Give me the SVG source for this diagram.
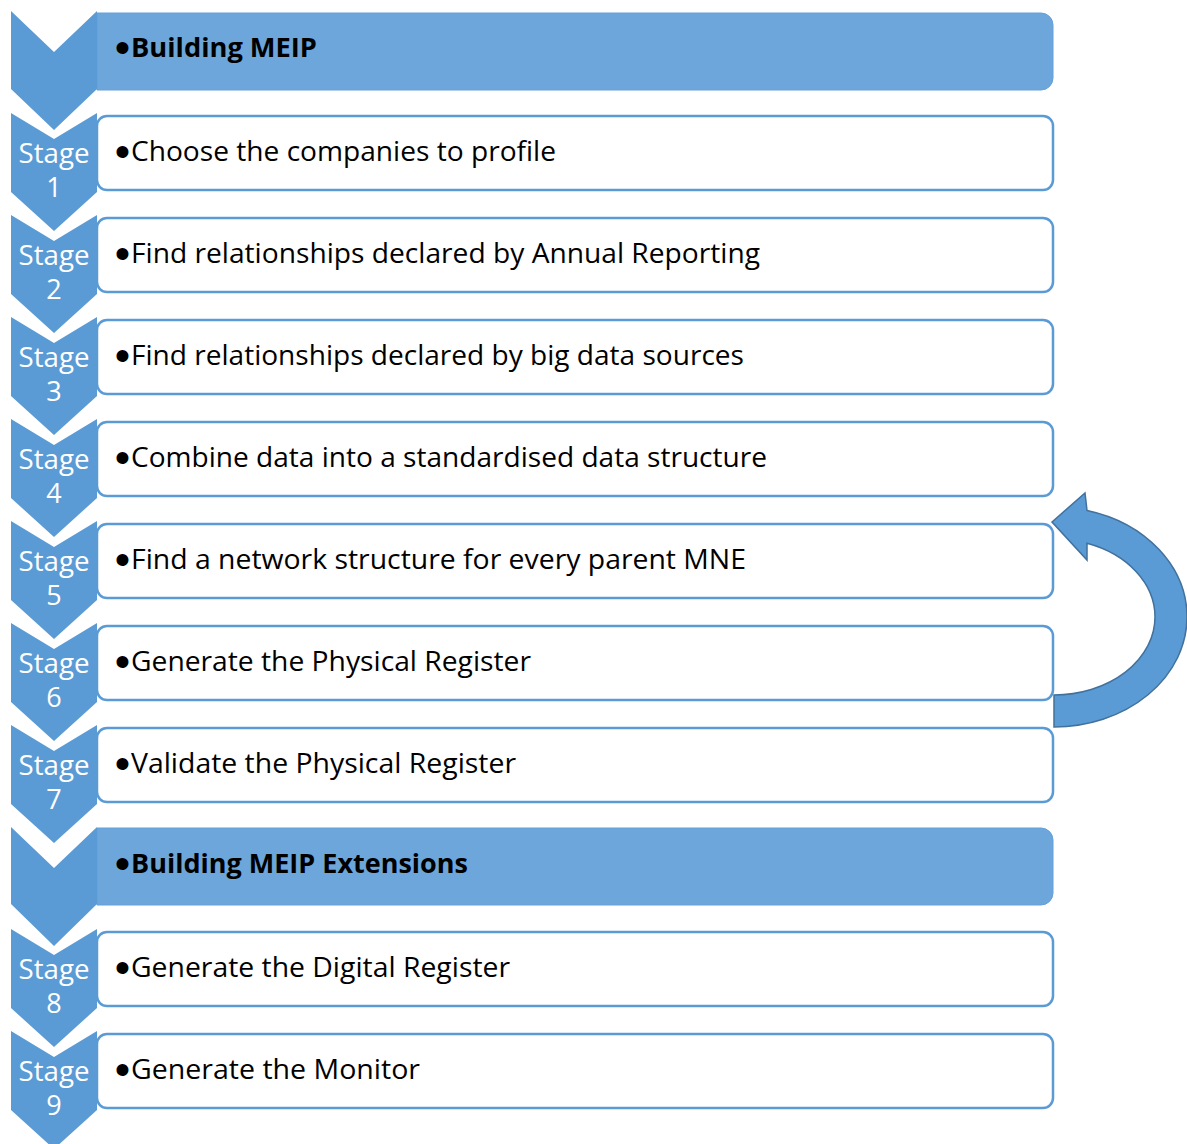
<svg xmlns="http://www.w3.org/2000/svg" width="1187" height="1144" viewBox="0 0 1187 1144">
<defs>
<style>
.chev{fill:#5B9BD5;}
.hbox{fill:#6CA6DB;stroke:#64A0D8;stroke-width:1;}
.sbox{fill:#FFFFFF;stroke:#5B9BD5;stroke-width:2.5;}
.t{font-family:"Open Sans","Liberation Sans",sans-serif;font-size:27px;fill:#000000;}
.hb{font-weight:bold;}
.b{font-family:"Liberation Sans",sans-serif;font-size:44px;fill:#000000;text-anchor:middle;}
.st{font-family:"Open Sans","Liberation Sans",sans-serif;font-size:27px;fill:#FFFFFF;text-anchor:middle;}
.arrow{fill:#5B9BD5;stroke:#41719C;stroke-width:1.5;}
</style>
</defs>
<rect width="1187" height="1144" fill="#FFFFFF"/>

<g id="header1">
<path class="hbox" d="M97,13 H1041 A12,12 0 0 1 1053,25 V78 A12,12 0 0 1 1041,90 H97 Z"/>
<polygon class="chev" points="11,11 54,52 97,11 97,89 54,130 11,89"/>
<text class="b" x="122.5" y="63">•</text>
<text class="t hb" x="131" y="57" textLength="186" lengthAdjust="spacingAndGlyphs">Building MEIP</text>
</g>

<g id="stage1">
<rect class="sbox" x="97" y="116" width="956" height="74" rx="10"/>
<polygon class="chev" points="11,113 54,139 97,113 97,192 54,231 11,192"/>
<text class="st" x="54" y="163" textLength="71" lengthAdjust="spacingAndGlyphs">Stage</text>
<text class="st" x="54" y="197">1</text>
<text class="b" x="122.5" y="167">•</text>
<text class="t" x="131" y="161" textLength="425" lengthAdjust="spacingAndGlyphs">Choose the companies to profile</text>
</g>

<g id="stage2">
<rect class="sbox" x="97" y="218" width="956" height="74" rx="10"/>
<polygon class="chev" points="11,215 54,241 97,215 97,294 54,333 11,294"/>
<text class="st" x="54" y="265" textLength="71" lengthAdjust="spacingAndGlyphs">Stage</text>
<text class="st" x="54" y="299">2</text>
<text class="b" x="122.5" y="269">•</text>
<text class="t" x="131" y="263" textLength="629" lengthAdjust="spacingAndGlyphs">Find relationships declared by Annual Reporting</text>
</g>

<g id="stage3">
<rect class="sbox" x="97" y="320" width="956" height="74" rx="10"/>
<polygon class="chev" points="11,317 54,343 97,317 97,396 54,435 11,396"/>
<text class="st" x="54" y="367" textLength="71" lengthAdjust="spacingAndGlyphs">Stage</text>
<text class="st" x="54" y="401">3</text>
<text class="b" x="122.5" y="371">•</text>
<text class="t" x="131" y="365" textLength="613" lengthAdjust="spacingAndGlyphs">Find relationships declared by big data sources</text>
</g>

<g id="stage4">
<rect class="sbox" x="97" y="422" width="956" height="74" rx="10"/>
<polygon class="chev" points="11,419 54,445 97,419 97,498 54,537 11,498"/>
<text class="st" x="54" y="469" textLength="71" lengthAdjust="spacingAndGlyphs">Stage</text>
<text class="st" x="54" y="503">4</text>
<text class="b" x="122.5" y="473">•</text>
<text class="t" x="131" y="467" textLength="636" lengthAdjust="spacingAndGlyphs">Combine data into a standardised data structure</text>
</g>

<g id="stage5">
<rect class="sbox" x="97" y="524" width="956" height="74" rx="10"/>
<polygon class="chev" points="11,521 54,547 97,521 97,600 54,639 11,600"/>
<text class="st" x="54" y="571" textLength="71" lengthAdjust="spacingAndGlyphs">Stage</text>
<text class="st" x="54" y="605">5</text>
<text class="b" x="122.5" y="575">•</text>
<text class="t" x="131" y="569" textLength="615" lengthAdjust="spacingAndGlyphs">Find a network structure for every parent MNE</text>
</g>

<g id="stage6">
<rect class="sbox" x="97" y="626" width="956" height="74" rx="10"/>
<polygon class="chev" points="11,623 54,649 97,623 97,702 54,741 11,702"/>
<text class="st" x="54" y="673" textLength="71" lengthAdjust="spacingAndGlyphs">Stage</text>
<text class="st" x="54" y="707">6</text>
<text class="b" x="122.5" y="677">•</text>
<text class="t" x="131" y="671" textLength="400" lengthAdjust="spacingAndGlyphs">Generate the Physical Register</text>
</g>

<g id="stage7">
<rect class="sbox" x="97" y="728" width="956" height="74" rx="10"/>
<polygon class="chev" points="11,725 54,751 97,725 97,804 54,843 11,804"/>
<text class="st" x="54" y="775" textLength="71" lengthAdjust="spacingAndGlyphs">Stage</text>
<text class="st" x="54" y="809">7</text>
<text class="b" x="122.5" y="779">•</text>
<text class="t" x="131" y="773" textLength="385" lengthAdjust="spacingAndGlyphs">Validate the Physical Register</text>
</g>

<g id="header2">
<path class="hbox" d="M97,828 H1041 A12,12 0 0 1 1053,840 V893 A12,12 0 0 1 1041,905 H97 Z"/>
<polygon class="chev" points="11,827 54,868 97,827 97,904 54,946 11,904"/>
<text class="b" x="122.5" y="879">•</text>
<text class="t hb" x="131" y="873" textLength="337" lengthAdjust="spacingAndGlyphs">Building MEIP Extensions</text>
</g>

<g id="stage8">
<rect class="sbox" x="97" y="932" width="956" height="74" rx="10"/>
<polygon class="chev" points="11,929 54,955 97,929 97,1008 54,1047 11,1008"/>
<text class="st" x="54" y="979" textLength="71" lengthAdjust="spacingAndGlyphs">Stage</text>
<text class="st" x="54" y="1013">8</text>
<text class="b" x="122.5" y="983">•</text>
<text class="t" x="131" y="977" textLength="379" lengthAdjust="spacingAndGlyphs">Generate the Digital Register</text>
</g>

<g id="stage9">
<rect class="sbox" x="97" y="1034" width="956" height="74" rx="10"/>
<polygon class="chev" points="11,1031 54,1057 97,1031 97,1110 54,1149 11,1110"/>
<text class="st" x="54" y="1081" textLength="71" lengthAdjust="spacingAndGlyphs">Stage</text>
<text class="st" x="54" y="1115">9</text>
<text class="b" x="122.5" y="1085">•</text>
<text class="t" x="131" y="1079" textLength="289" lengthAdjust="spacingAndGlyphs">Generate the Monitor</text>
</g>

<g id="connectors">
<path class="arrow" d="M1054,727 A133,110 0 0 0 1187,617 A133,110 0 0 0 1087,510.4 L1085,493 L1052,522 L1087,560 L1087,543.3 A101,78 0 0 1 1155,617 A101,78 0 0 1 1054,695 Z"/>
</g>
</svg>
